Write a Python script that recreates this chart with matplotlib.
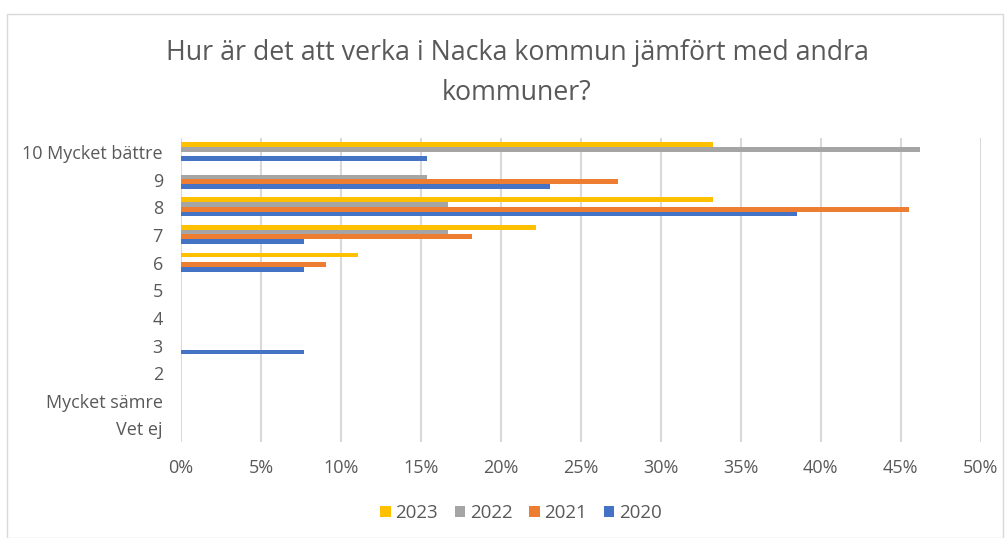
import numpy as np
import matplotlib.pyplot as plt
from matplotlib.patches import Rectangle

plt.rcParams['font.family'] = ['Open Sans', 'DejaVu Sans']

# Data (shares per answer)
categories = ["10 Mycket bättre", "9", "8", "7", "6", "5", "4", "3", "2", "Mycket sämre", "Vet ej"]
years = ["2023", "2022", "2021", "2020"]
v2023 = [0.333, 0.0, 0.333, 0.222, 0.111, 0.0, 0.0, 0.0, 0.0, 0.0, 0.0]
v2022 = [0.462, 0.154, 0.167, 0.167, 0.0, 0.0, 0.0, 0.0, 0.0, 0.0, 0.0]
v2021 = [0.0, 0.273, 0.455, 0.182, 0.091, 0.0, 0.0, 0.0, 0.0, 0.0, 0.0]
v2020 = [0.154, 0.231, 0.385, 0.077, 0.077, 0.0, 0.0, 0.077, 0.0, 0.0, 0.0]
series = [v2023, v2022, v2021, v2020]
colors = ["#FFC000", "#A5A5A5", "#ED7D31", "#4472C4"]
xticks = np.arange(0, 0.51, 0.05)

text_color = "#595959"

fig = plt.figure(figsize=(10.07, 5.38), dpi=100)
fig.patches.append(Rectangle((7 / 1007, 0.0), 996 / 1007, 1 - 14 / 538,
                             transform=fig.transFigure, fill=False,
                             edgecolor="#d9d9d9", linewidth=1.0))

ax = fig.add_axes([0.1797, 0.178, 0.794, 0.5651])

y = np.arange(len(categories))
h = 0.17
for k, (vals, col, lab) in enumerate(zip(series, colors, years)):
    ax.barh(y + (k - 1.6) * h, vals, height=h, color=col, label=lab, zorder=3)

ax.set_ylim(len(categories) - 0.5, -0.5)
ax.set_xlim(0, 0.5)
ax.set_yticks(y)
ax.set_yticklabels(categories)
ax.set_xticks(xticks)
ax.set_xticklabels([f"{int(round(t * 100))}%" for t in xticks])
ax.tick_params(axis='both', length=0, labelsize=13, colors=text_color)
ax.tick_params(axis='y', pad=13)
ax.tick_params(axis='x', pad=12)
ax.grid(axis='x', color="#d9d9d9", linewidth=1.5, zorder=0)
for s in ax.spines.values():
    s.set_visible(False)

fig.text(517 / 1007, 1 - 73 / 538,
         "Hur är det att verka i Nacka kommun jämfört med andra\nkommuner?",
         ha='center', va='center', fontsize=19.3, color=text_color,
         linespacing=1.6)

handles, labels = ax.get_legend_handles_labels()
leg = fig.legend(handles, labels, loc='center', ncol=4,
                 bbox_to_anchor=(521 / 1007, 1 - 513 / 538), frameon=False,
                 fontsize=13.5, handlelength=0.55, handleheight=0.55,
                 handletextpad=0.25, columnspacing=0.9)
for t in leg.get_texts():
    t.set_color(text_color)

fig.savefig("out.png", dpi=100)
